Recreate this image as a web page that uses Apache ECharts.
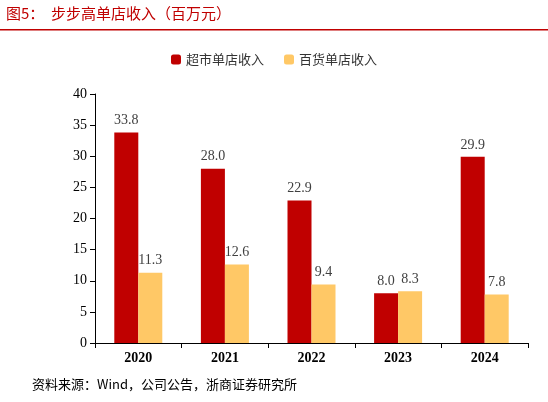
<!DOCTYPE html>
<html><head><meta charset="utf-8">
<script src="https://cdn.jsdelivr.net/npm/echarts@6/dist/echarts.min.js"></script>
<style>html,body{margin:0;padding:0;background:#fff}#c{width:548px;height:402px}</style>
</head><body><div id="c"></div>
<script>
const categories = ['2020','2021','2022','2023','2024'];
const supermarket = [33.8, 28.0, 22.9, 8.0, 29.9];
const department = [11.3, 12.6, 9.4, 8.3, 7.8];
const chart = echarts.init(document.getElementById('c'));
const lbl = {show:true, position:'top', formatter: p => p.value.toFixed(1), fontFamily:'Liberation Serif', fontSize:14, color:'#404040'};
chart.setOption({
  animation:false,
  graphic:[
    {type:'text', left:6, top:6, style:{text:'图5：  步步高单店收入（百万元）', fill:'#C00000', font:'15px "Noto Sans CJK SC"'}},
    {type:'rect', shape:{x:0,y:29,width:548,height:1.5}, style:{fill:'#C00000'}},
    {type:'text', left:32, top:378, style:{text:'资料来源：Wind，公司公告，浙商证券研究所', fill:'#000', font:'13px "Noto Sans CJK SC"'}}
  ],
  legend:{top:48, left:'center', itemWidth:10, itemHeight:10, itemGap:20, textStyle:{fontFamily:'Noto Sans CJK SC', fontSize:13, color:'#333'}, data:['超市单店收入','百货单店收入']},
  grid:{left:95, right:20, top:94, bottom:59},
  xAxis:{type:'category', data:categories, axisLine:{lineStyle:{color:'#000'}}, axisTick:{show:true, lineStyle:{color:'#000'}}, axisLabel:{fontFamily:'Liberation Serif', fontSize:14, color:'#000', fontWeight:'bold'}},
  yAxis:{type:'value', min:0, max:40, interval:5, splitLine:{show:false}, axisLine:{show:true, lineStyle:{color:'#000'}}, axisTick:{show:true, lineStyle:{color:'#000'}}, axisLabel:{fontFamily:'Liberation Serif', fontSize:14, color:'#000'}},
  series:[
    {name:'超市单店收入', type:'bar', data:supermarket, barWidth:24, barGap:'0%', itemStyle:{color:'#C00000'}, label:lbl},
    {name:'百货单店收入', type:'bar', data:department, barWidth:24, itemStyle:{color:'#FFC866'}, label:lbl}
  ]
});
</script></body></html>
